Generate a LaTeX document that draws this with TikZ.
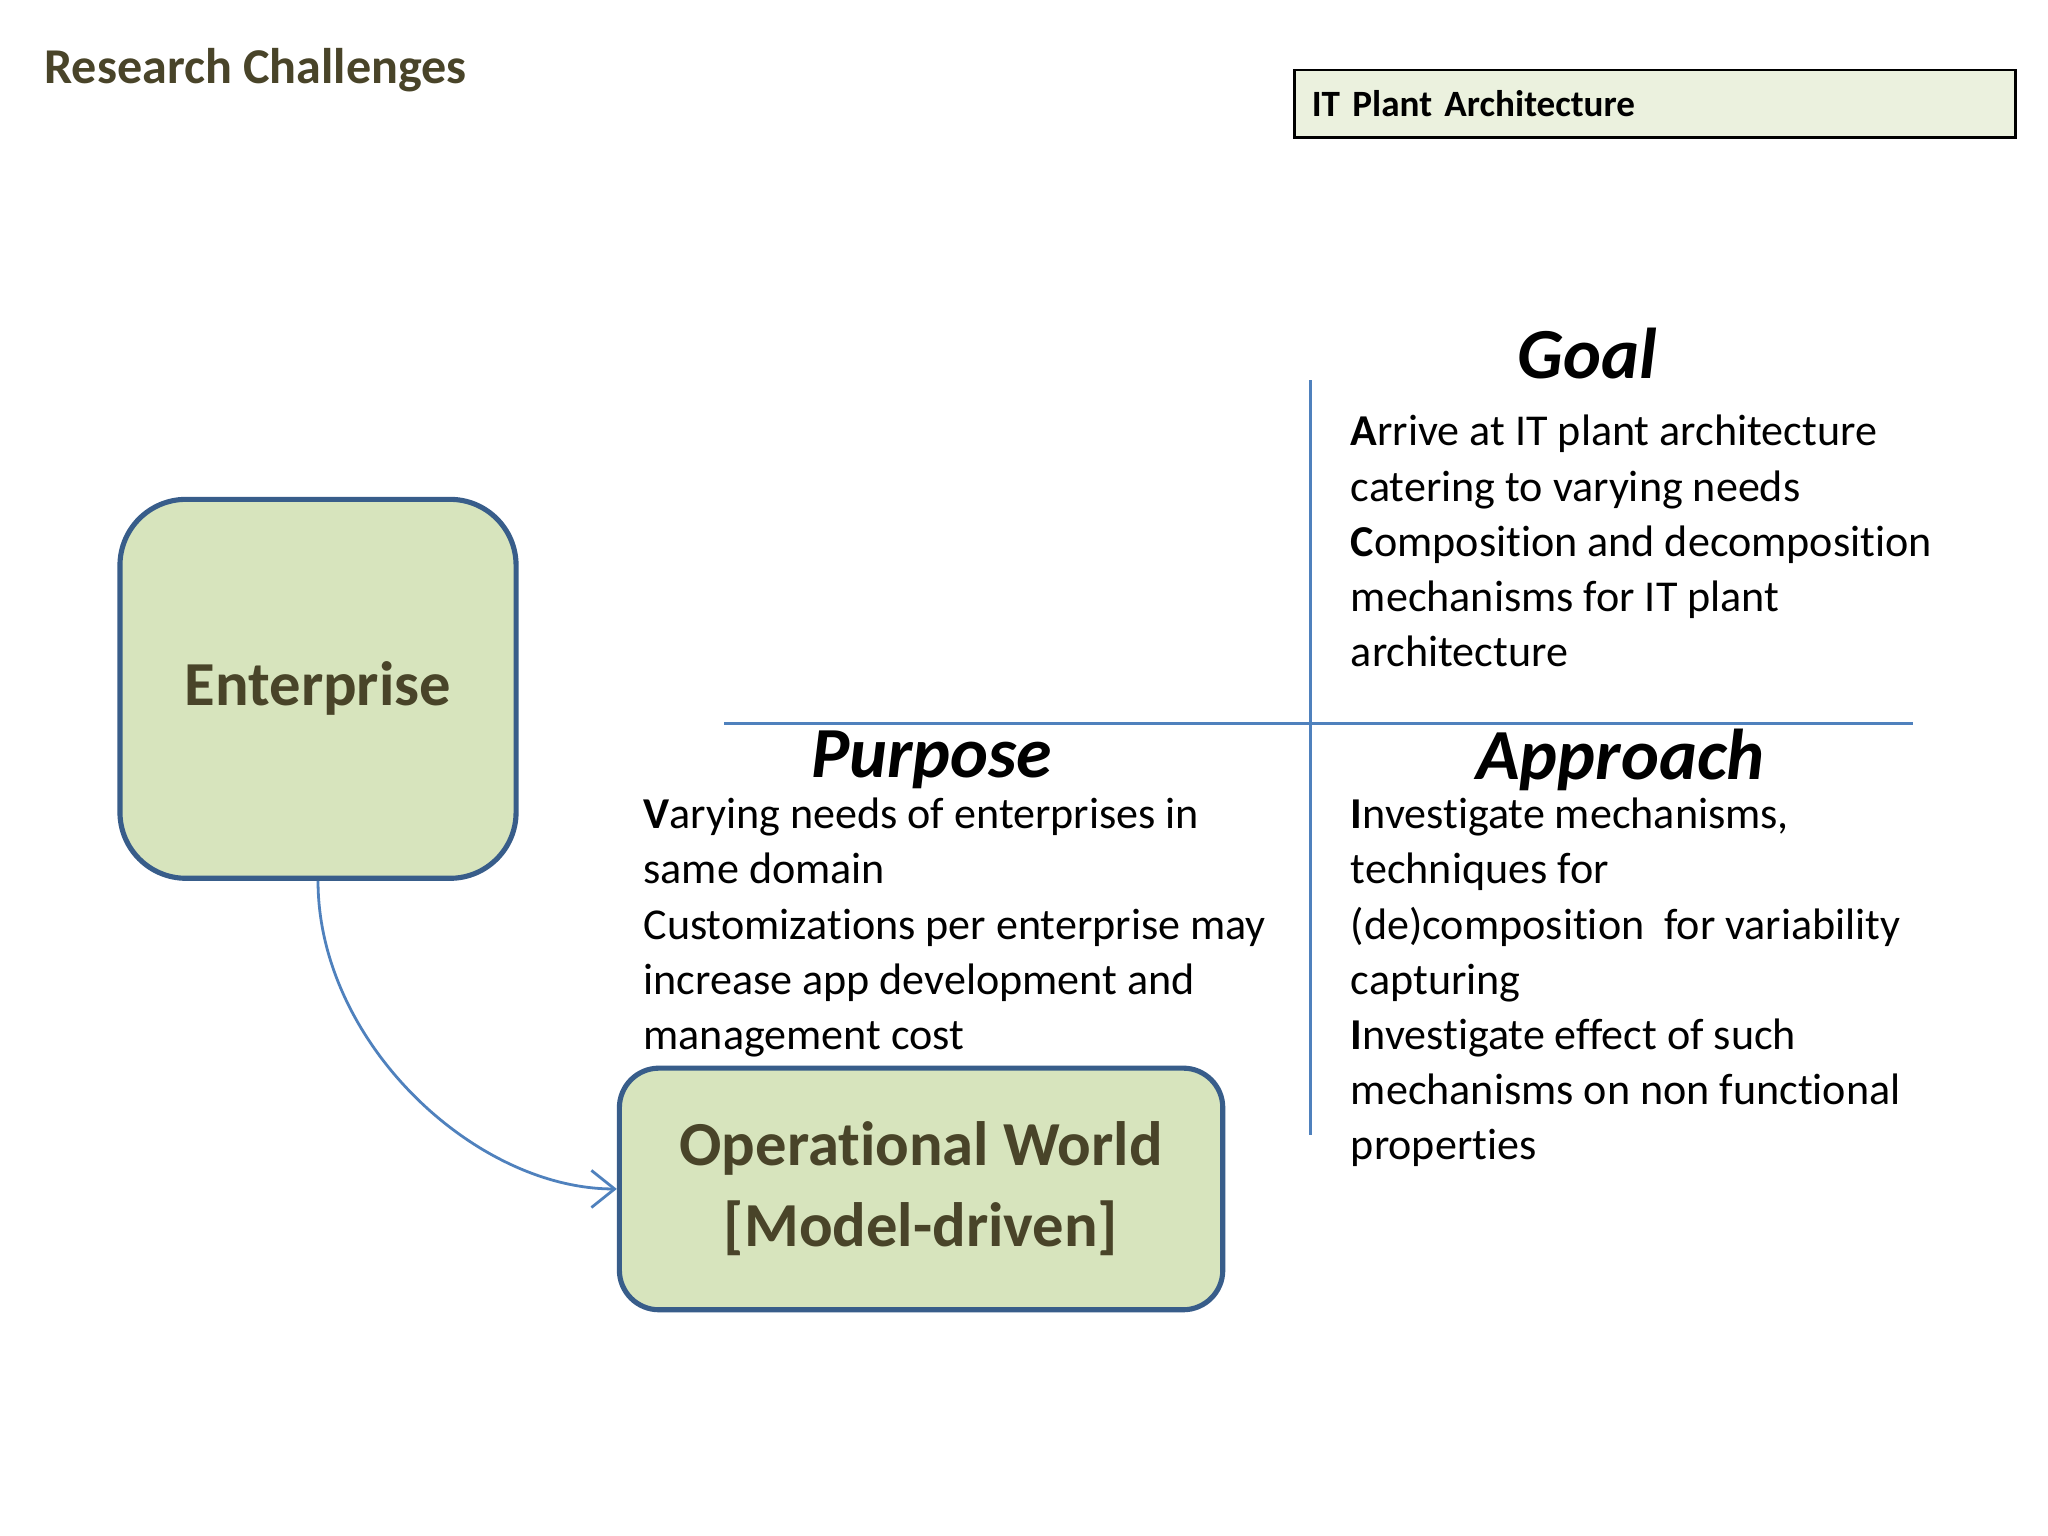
\documentclass[tikz,border=0pt]{standalone}
\usepackage{fontspec}
\setmainfont{Carlito}[Ligatures={NoCommon,NoRequired,NoContextual}]
\usetikzlibrary{arrows.meta}
\definecolor{olive}{HTML}{494429}
\definecolor{boxfill}{HTML}{D7E4BD}
\definecolor{boxline}{HTML}{385D8A}
\definecolor{lineblue}{HTML}{4F81BD}
\definecolor{hdrfill}{HTML}{EBF1DE}
\begin{document}
\begin{tikzpicture}[x=0.01cm,y=-0.01cm,
  body/.style={anchor=north west,align=left,inner sep=0pt,font=\fontsize{9.5}{11.9}\selectfont},
  head/.style={inner sep=0pt,font=\fontsize{15.5}{18}\selectfont\bfseries\itshape},
  bigbox/.style={draw=boxline,line width=1.1pt,fill=boxfill,text=olive,align=center,font=\fontsize{13.5}{17.4}\selectfont\bfseries}]
\useasboundingbox[fill=white] (0,0) rectangle (1552,1164);
\node[anchor=base west,inner sep=0pt,text=olive,font=\fontsize{10.8}{13}\selectfont\bfseries] (title) at (33,63) {Research Challenges};
\node[draw=black,line width=0.6pt,fill=hdrfill,minimum width=5.46cm,minimum height=0.51cm,anchor=north west,font=\fontsize{8}{10}\selectfont\bfseries,text width=5.2cm,align=left] (itp) at (980,52) {IT Plant Architecture};
\coordinate (vt) at (993,288); \coordinate (vb) at (993,860);
\coordinate (hl) at (549,548); \coordinate (hr) at (1450,548);
\draw[lineblue,line width=0.6pt] (vt) -- (vb);
\draw[lineblue,line width=0.6pt] (hl) -- (hr);
\node[head] (goal) at (1203,268) {Goal};
\node[head] (purpose) at (706,576) {Purpose};
\node[head] (approach) at (1228,576) {Approach};
\node[body] (goaltext) at (1023,314) {\textbf{A}rrive at IT plant architecture\\catering to varying needs\\\textbf{C}omposition and decomposition\\mechanisms for IT plant\\architecture};
\node[body] (purposetext) at (487,604) {\textbf{V}arying needs of enterprises in\\same domain\\Customizations per enterprise may\\increase app development and\\management cost};
\node[body] (approachtext) at (1023,604) {\textbf{I}nvestigate mechanisms,\\techniques for\\(de)composition\ \ for variability\\capturing\\\textbf{I}nvestigate effect of such\\mechanisms on non functional\\properties};
\node[bigbox,rounded corners=0.5cm,minimum width=3cm,minimum height=2.87cm] (ent) at (241,522) {Enterprise};
\node[bigbox,rounded corners=0.3cm,minimum width=4.57cm,minimum height=1.83cm] (ops) at (698,901) {Operational World\\{[}Model-driven{]}};
\draw[lineblue,line width=0.6pt,-{Straight Barb[length=5pt,width=8pt]}] (ent.south) .. controls (241,790) and (360,901) .. (ops.west);
\end{tikzpicture}
\end{document}
